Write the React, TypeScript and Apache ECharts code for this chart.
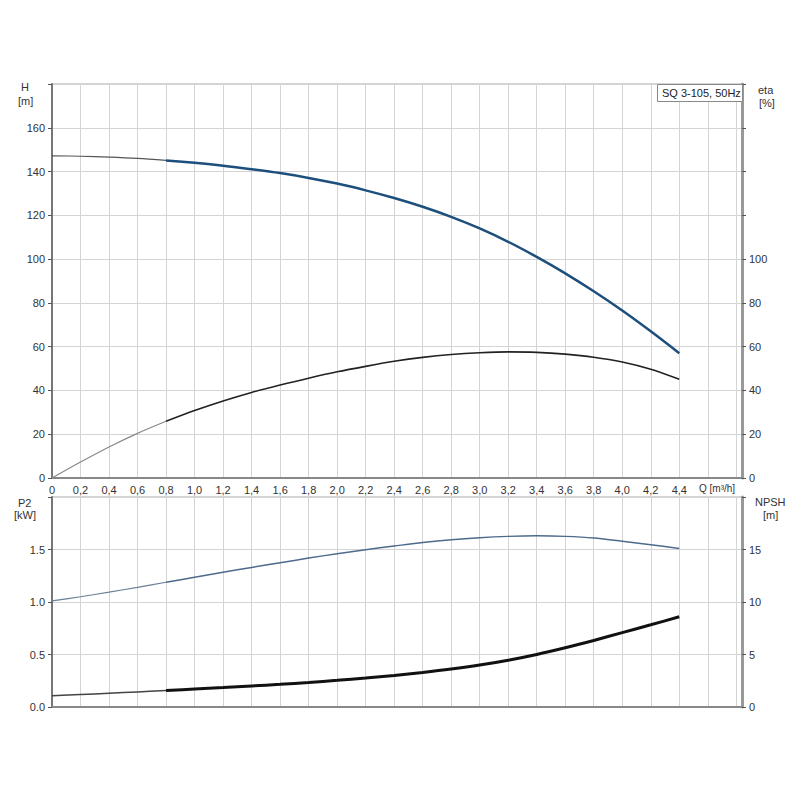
import React, { useEffect, useRef } from "react";
import * as echarts from "echarts";

const Q = [0, 0.2, 0.4, 0.6, 0.8, 1.0, 1.2, 1.4, 1.6, 1.8, 2.0, 2.2, 2.4, 2.6, 2.8, 3.0, 3.2, 3.4, 3.6, 3.8, 4.0, 4.2, 4.4];
const H = [147.2, 147.0, 146.6, 146.0, 145.1, 144.0, 142.7, 141.1, 139.3, 137.1, 134.5, 131.4, 127.9, 123.9, 119.3, 114.0, 107.9, 101.0, 93.5, 85.3, 76.5, 67.0, 57.0];
const ETA = [0, 7.3, 14.2, 20.4, 25.9, 30.8, 35.2, 39.1, 42.5, 45.6, 48.5, 51.0, 53.3, 55.1, 56.4, 57.2, 57.6, 57.4, 56.6, 55.2, 53.0, 49.7, 45.1];
const P2 = [1.01, 1.05, 1.094, 1.14, 1.188, 1.236, 1.283, 1.329, 1.374, 1.418, 1.46, 1.498, 1.533, 1.567, 1.594, 1.613, 1.625, 1.63, 1.625, 1.61, 1.578, 1.545, 1.51];
const NPSH = [1.07, 1.19, 1.31, 1.44, 1.57, 1.71, 1.85, 2.0, 2.16, 2.34, 2.54, 2.76, 3.01, 3.29, 3.61, 3.99, 4.45, 5.0, 5.64, 6.34, 7.08, 7.83, 8.59];
const SPLIT = 4; // index where the curves become thick
const TITLE = "SQ 3-105, 50Hz";

const FONT = "Liberation Sans, Arial, sans-serif";

function pairs(vals: number[], from: number, to: number) {
  const out: number[][] = [];
  for (let i = from; i <= to; i++) out.push([Q[i], vals[i]]);
  return out;
}

export default function App() {
  const ref = useRef<HTMLDivElement>(null);
  useEffect(() => {
    if (!ref.current) return;
    const chart = echarts.init(ref.current, null, { renderer: "svg" });
    const last = Q.length - 1;
    const gridLine = { show: true, lineStyle: { color: "#d4d4d4", width: 1 } };
    const axisLbl = { color: "#333", fontFamily: FONT, fontSize: 11 };
    const xFmt = (v: number) => (v > 4.45 ? "" : v === 0 ? "0" : v.toFixed(1).replace(".", ","));
    const baseX = {
      type: "value",
      min: 0,
      max: 4.84,
      interval: 0.2,
      splitLine: gridLine,
      axisTick: { show: false },
      axisLine: { show: true, lineStyle: { color: "#888", width: 2 } },
    };
    const seg = (name: string, x: number, y: number, data: number[][], color: string, width: number, z: number) => ({
      name,
      type: "line",
      xAxisIndex: x,
      yAxisIndex: y,
      data,
      smooth: 0.3,
      showSymbol: false,
      symbol: "none",
      lineStyle: { color, width },
      z,
    });
    chart.setOption({
      animation: false,
      backgroundColor: "#fff",
      grid: [
        { left: 52, right: 58, top: 84, height: 394, show: true, borderColor: "#aaa", borderWidth: 1, backgroundColor: "#fff" },
        { left: 52, right: 58, top: 497, height: 210, show: true, borderColor: "#aaa", borderWidth: 1, backgroundColor: "#fff" },
      ],
      xAxis: [
        { ...baseX, gridIndex: 0, axisLabel: { ...axisLbl, margin: 6, formatter: xFmt } },
        { ...baseX, gridIndex: 1, axisLabel: { show: false } },
      ],
      yAxis: [
        {
          type: "value", gridIndex: 0, min: 0, max: 180, interval: 20, position: "left",
          splitLine: gridLine,
          axisLine: { show: true, lineStyle: { color: "#777", width: 2 } },
          axisTick: { show: true, length: 4, lineStyle: { color: "#555" } },
          axisLabel: { ...axisLbl, margin: 7, formatter: (v: number) => (v > 170 ? "" : String(v)) },
        },
        {
          type: "value", gridIndex: 0, min: 0, max: 180, interval: 20, position: "right",
          splitLine: { show: false },
          axisLine: { show: true, lineStyle: { color: "#999", width: 3 } },
          axisTick: { show: true, length: 4, lineStyle: { color: "#555" } },
          axisLabel: { ...axisLbl, margin: 7, formatter: (v: number) => (v > 100 ? "" : String(v)) },
        },
        {
          type: "value", gridIndex: 1, min: 0, max: 2, interval: 0.5, position: "left",
          splitLine: gridLine,
          axisLine: { show: true, lineStyle: { color: "#777", width: 2 } },
          axisTick: { show: true, length: 4, lineStyle: { color: "#555" } },
          axisLabel: { ...axisLbl, margin: 7, formatter: (v: number) => (v > 1.9 ? "" : v.toFixed(1)) },
        },
        {
          type: "value", gridIndex: 1, min: 0, max: 20, interval: 5, position: "right",
          splitLine: { show: false },
          axisLine: { show: true, lineStyle: { color: "#999", width: 3 } },
          axisTick: { show: true, length: 4, lineStyle: { color: "#555" } },
          axisLabel: { ...axisLbl, margin: 7, formatter: (v: number) => (v > 19 ? "" : String(v)) },
        },
      ],
      series: [
        seg("H-a", 0, 0, pairs(H, 0, SPLIT), "#555", 1.2, 3),
        seg("H-b", 0, 0, pairs(H, SPLIT, last), "#1d4f7c", 2.5, 4),
        seg("eta-a", 0, 1, pairs(ETA, 0, SPLIT), "#888", 1.2, 3),
        seg("eta-b", 0, 1, pairs(ETA, SPLIT, last), "#222", 1.6, 4),
        seg("P2-a", 1, 2, pairs(P2, 0, SPLIT), "#6b7f96", 1.2, 3),
        seg("P2-b", 1, 2, pairs(P2, SPLIT, last), "#4d6b8c", 1.5, 4),
        seg("NPSH-a", 1, 3, pairs(NPSH, 0, SPLIT), "#444", 1.5, 3),
        seg("NPSH-b", 1, 3, pairs(NPSH, SPLIT, last), "#111", 3, 4),
      ],
      graphic: [
        { type: "text", left: 21, top: 81, style: { text: "H", fill: "#333", font: `11px ${FONT}` } },
        { type: "text", left: 18, top: 95, style: { text: "[m]", fill: "#333", font: `11px ${FONT}` } },
        { type: "text", left: 758, top: 84, style: { text: "eta", fill: "#333", font: `11px ${FONT}` } },
        { type: "text", left: 759, top: 97, style: { text: "[%]", fill: "#333", font: `11px ${FONT}` } },
        { type: "text", left: 18, top: 497, style: { text: "P2", fill: "#333", font: `11px ${FONT}` } },
        { type: "text", left: 14, top: 509, style: { text: "[kW]", fill: "#333", font: `11px ${FONT}` } },
        { type: "text", left: 755, top: 496, style: { text: "NPSH", fill: "#333", font: `11px ${FONT}` } },
        { type: "text", left: 763, top: 509, style: { text: "[m]", fill: "#333", font: `11px ${FONT}` } },
        { type: "text", left: 699, top: 483, style: { text: "Q [m³/h]", fill: "#333", font: `10px ${FONT}` } },
        { type: "rect", left: 657, top: 84, z: 100, shape: { width: 85, height: 17 }, style: { fill: "#fff", stroke: "#888", lineWidth: 1 } },
        { type: "text", left: 662, top: 87, z: 101, style: { text: TITLE, fill: "#222", font: `11px ${FONT}` } },
      ],
    });
    return () => chart.dispose();
  }, []);
  return <div ref={ref} style={{ position: "absolute", left: 0, top: 0, width: 800, height: 800 }} />;
}
